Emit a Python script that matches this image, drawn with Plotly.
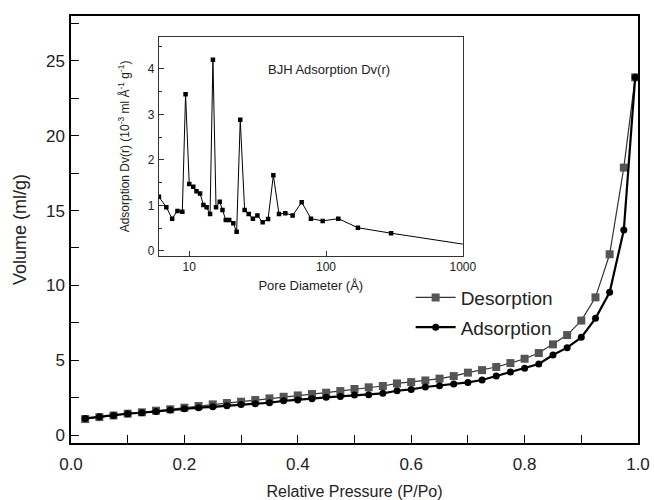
import plotly.graph_objects as go

# ---- main isotherm data ----
rel_pressure = [0.025, 0.05, 0.075, 0.1, 0.125, 0.15, 0.175, 0.2, 0.225, 0.25,
                0.275, 0.3, 0.325, 0.35, 0.375, 0.4, 0.425, 0.45, 0.475, 0.5,
                0.525, 0.55, 0.575, 0.6, 0.625, 0.65, 0.675, 0.7, 0.725, 0.75,
                0.775, 0.8, 0.825, 0.85, 0.875, 0.9, 0.925, 0.95, 0.975, 0.995]
desorption = [1.07, 1.20, 1.31, 1.43, 1.52, 1.63, 1.72, 1.83, 1.94, 2.05,
              2.14, 2.23, 2.34, 2.45, 2.56, 2.65, 2.74, 2.83, 2.94, 3.08,
              3.19, 3.28, 3.45, 3.54, 3.65, 3.77, 3.94, 4.17, 4.34, 4.55,
              4.81, 5.10, 5.48, 6.06, 6.68, 7.65, 9.20, 12.08, 17.87, 23.9]
adsorption = [1.11, 1.23, 1.31, 1.43, 1.49, 1.58, 1.67, 1.76, 1.83, 1.89,
              1.96, 2.05, 2.09, 2.16, 2.29, 2.34, 2.43, 2.52, 2.58, 2.67,
              2.70, 2.79, 2.96, 3.05, 3.21, 3.30, 3.41, 3.52, 3.68, 3.94,
              4.21, 4.46, 4.75, 5.35, 5.84, 6.53, 7.80, 9.54, 13.70, 23.9]

# ---- inset BJH data ----
pore_diameter = [6.0, 6.8, 7.5, 8.2, 8.9, 9.4, 10.0, 10.7, 11.3, 12.0,
                 12.7, 13.4, 14.2, 14.9, 15.7, 16.7, 17.5, 18.5, 19.6, 21.0,
                 22.2, 23.6, 25.4, 27.2, 29.2, 31.5, 34.4, 37.7, 41.2, 45.3,
                 50.4, 57.0, 66.4, 77.6, 94.5, 123, 171, 299, 1500]
dv = [1.19, 0.96, 0.71, 0.88, 0.86, 3.44, 1.47, 1.41, 1.31, 1.26,
      1.01, 0.96, 0.81, 4.20, 0.96, 1.08, 0.90, 0.68, 0.68, 0.61,
      0.42, 2.88, 0.90, 0.81, 0.71, 0.78, 0.63, 0.70, 1.66, 0.81,
      0.83, 0.78, 1.07, 0.71, 0.66, 0.71, 0.51, 0.39, 0.07]

inset_xtick_vals = [10, 100, 1000]
inset_xtick_text = ["10", "100", "1000"]

FONT = "Liberation Sans, Arial, sans-serif"

fig = go.Figure()

fig.add_trace(go.Scatter(
    x=rel_pressure, y=desorption, name="Desorption", mode="lines+markers",
    line=dict(color="#333333", width=1.2),
    marker=dict(symbol="square", size=8, color="#555555"),
    legendgroup="d", cliponaxis=False))
fig.add_trace(go.Scatter(
    x=rel_pressure, y=adsorption, name="Adsorption", mode="lines+markers",
    line=dict(color="black", width=2.2),
    marker=dict(symbol="circle", size=7, color="black"),
    legendgroup="a", cliponaxis=False))

fig.add_trace(go.Scatter(
    x=pore_diameter, y=dv, xaxis="x2", yaxis="y2", mode="lines+markers",
    line=dict(color="black", width=1),
    marker=dict(symbol="square", size=4.5, color="black"),
    showlegend=False))

axis_common = dict(showline=True, linecolor="black", linewidth=1.5, mirror=True,
                   ticks="inside", ticklen=8, tickwidth=1.2, tickcolor="black",
                   showgrid=False, zeroline=False, automargin=False,
                   tickfont=dict(family=FONT, size=17, color="#222222"))

inset_common = dict(showline=True, linecolor="#333333", linewidth=1, mirror=True,
                    ticks="inside", ticklen=5, tickcolor="#333333", showgrid=False,
                    zeroline=False, automargin=False,
                    tickfont=dict(family=FONT, size=12, color="#222222"))

fig.update_layout(
    width=654, height=500,
    margin=dict(l=71, r=16, t=16, b=57),
    paper_bgcolor="white", plot_bgcolor="white",
    font=dict(family=FONT, color="#222222"),
    xaxis=dict(range=[0, 1], dtick=0.2, tickformat=".1f", ticklabelstandoff=5,
               minor=dict(dtick=0.1, ticks="inside", ticklen=8, tickcolor="black"),
               title=dict(text="Relative Pressure (P/Po)", font=dict(size=16)),
               **axis_common),
    yaxis=dict(range=[-0.53, 28], dtick=5, ticklabelstandoff=1,
               minor=dict(dtick=2.5, ticks="inside", ticklen=8, tickcolor="black"),
               title=dict(text="Volume (ml/g)", font=dict(size=18)),
               **axis_common),
    xaxis2=dict(type="log", domain=[0.155, 0.691], anchor="y2",
                range=[0.778, 3.0], tickvals=inset_xtick_vals, ticktext=inset_xtick_text,
                title=dict(text="Pore Diameter (Å)", font=dict(size=13), standoff=7),
                **inset_common),
    yaxis2=dict(domain=[0.438, 0.951], anchor="x2", range=[-0.11, 4.7], dtick=1,
                ticklabelstandoff=1,
                minor=dict(dtick=0.5, ticks="inside", ticklen=3, tickcolor="#333333"),
                title=dict(text="Adsorption Dv(r) (10<sup>-3</sup> ml Å<sup>-1</sup> g<sup>-1</sup>)",
                           font=dict(size=12)),
                **inset_common),
    legend=dict(x=0.599, y=0.385, xanchor="left", yanchor="top",
                bgcolor="rgba(0,0,0,0)", font=dict(size=19, color="#222222"),
                traceorder="grouped", tracegroupgap=2, itemwidth=40),
    annotations=[dict(text="BJH Adsorption Dv(r)", xref="x2 domain", yref="y2 domain",
                      x=0.56, y=0.895, showarrow=False,
                      font=dict(size=13, color="#222222"))],
)

fig.write_html("out.html", config={"displayModeBar": False},
               post_script="document.body.style.margin='0';")
